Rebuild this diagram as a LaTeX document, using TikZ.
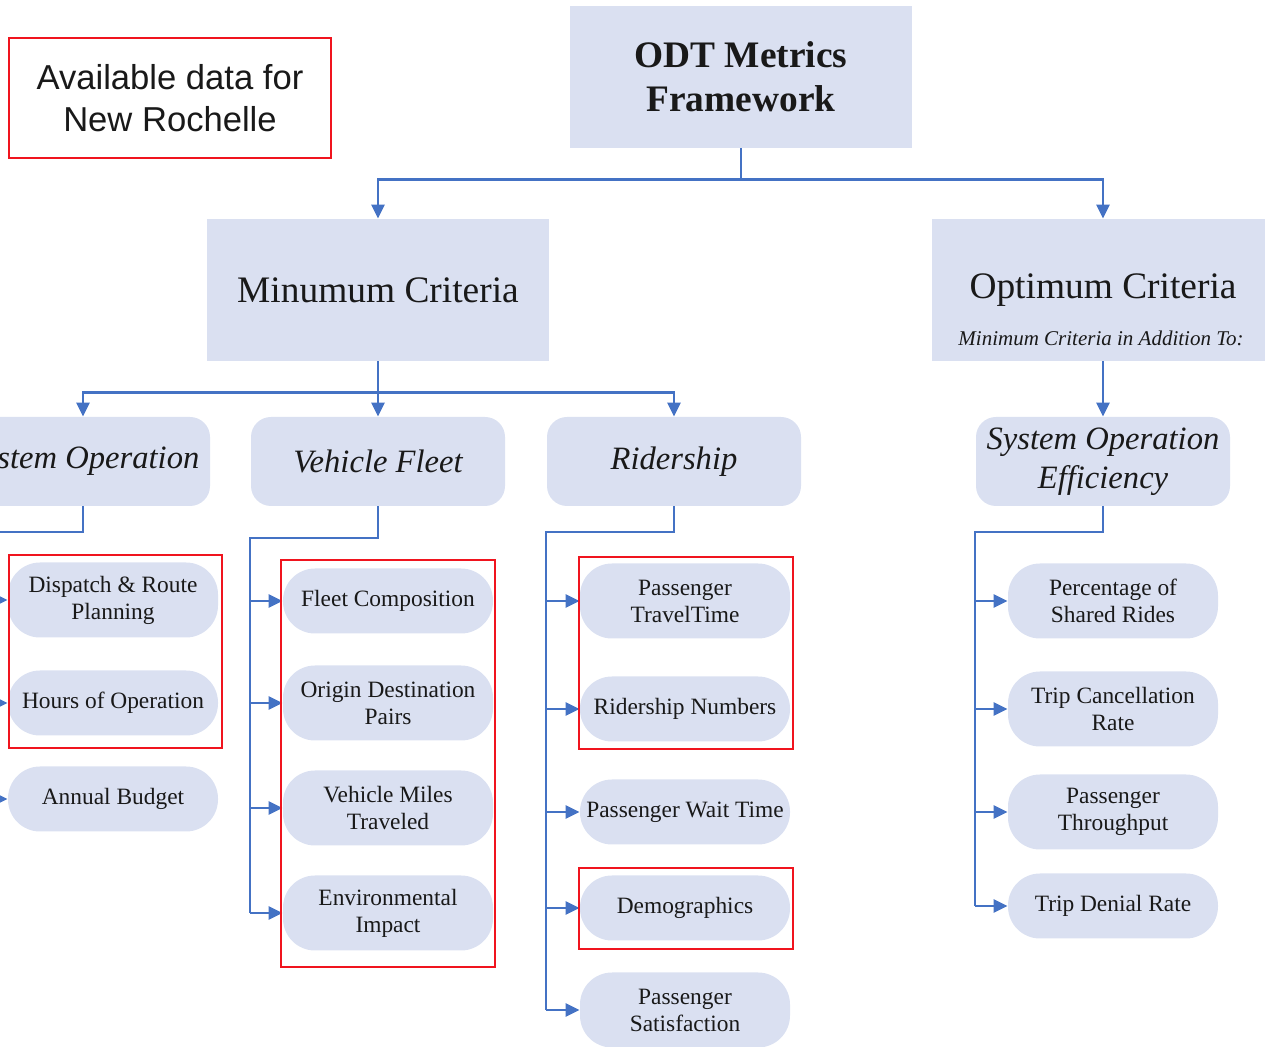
\documentclass[tikz,border=0pt]{standalone}
\usepackage{fontspec}
\setmainfont{Liberation Serif}
\newfontfamily\labelsans{Liberation Sans}
\usetikzlibrary{arrows.meta}
\definecolor{boxfill}{RGB}{218,224,241}
\definecolor{linkblue}{RGB}{68,114,196}
\definecolor{markred}{RGB}{240,20,30}
\definecolor{ink}{RGB}{25,25,25}
\begin{document}
\begin{tikzpicture}[x=0.5pt,y=-0.5pt,
  conn/.style={draw=linkblue, line width=1.25pt, -{Triangle[length=7pt,width=6.5pt]}},
  trunk/.style={draw=linkblue, line width=1.25pt},
  headbox/.style={fill=boxfill, minimum width=171pt, minimum height=71pt, inner sep=0pt, align=center, text=ink},
  catbox/.style={fill=boxfill, rounded corners=10pt, minimum width=127pt, minimum height=44.5pt, inner sep=0pt, align=center, font=\fontsize{16.3}{19.5}\selectfont\itshape, text=ink},
  leaf/.style={fill=boxfill, rounded corners=16pt, minimum width=105pt, inner sep=0pt, align=center, font=\fontsize{11.7}{13.5}\selectfont, text=ink},
  leaftwo/.style={leaf, minimum height=37.5pt},
  leafone/.style={leaf, minimum height=32.5pt},
  redmark/.style={draw=markred, line width=1.2pt},
]
\useasboundingbox (0,0) rectangle (1265,1047);
\clip (0,0) rectangle (1265,1047);

% legend
\node[redmark, minimum width=161pt, minimum height=60pt, inner sep=0pt, align=center,
      font=\labelsans\fontsize{17.3}{21}\selectfont, text=ink] (avail) at (170,98) {Available data for\\New Rochelle};

% top
\node[headbox, font=\fontsize{18.7}{22}\selectfont\bfseries] (odt) at (741,77) {ODT Metrics\\Framework};

% level 2
\node[headbox, font=\fontsize{18.7}{22}\selectfont] (minc) at (378,290) {Minumum Criteria};
\node[headbox, font=\fontsize{18.7}{22}\selectfont] (optc) at (1103,290) {Optimum Criteria};
\node[font=\fontsize{10.5}{12}\selectfont\itshape, text=ink, inner sep=0pt] (optsub) at (1101,338) {Minimum Criteria in Addition To:};

% level 3
\node[catbox] (sysop) at (83,461.5) {System Operation};
\node[catbox] (vf) at (378,461.5) {Vehicle Fleet};
\node[catbox] (rider) at (674,461.5) {Ridership};
\node[catbox] (soe) at (1103,461.5) {System Operation\\Efficiency};

% leaves: system operation
\node[leaftwo] (drp) at (113,600) {Dispatch \& Route\\Planning};
\node[leafone] (hoo) at (113,703) {Hours of Operation};
\node[leafone] (ab) at (113,799) {Annual Budget};

% leaves: vehicle fleet
\node[leafone] (fc) at (388,601) {Fleet Composition};
\node[leaftwo] (od) at (388,703) {Origin Destination\\Pairs};
\node[leaftwo] (vmt) at (388,808) {Vehicle Miles\\Traveled};
\node[leaftwo] (env) at (388,913) {Environmental\\Impact};

% leaves: ridership
\node[leaftwo] (ptt) at (685,601) {Passenger\\TravelTime};
\node[leafone] (rn) at (685,709) {Ridership Numbers};
\node[leafone] (pwt) at (685,812) {Passenger Wait Time};
\node[leafone] (demo) at (685,908) {Demographics};
\node[leaftwo] (psat) at (685,1010) {Passenger\\Satisfaction};

% leaves: system operation efficiency
\node[leaftwo] (psr) at (1113,601) {Percentage of\\Shared Rides};
\node[leaftwo] (tcr) at (1113,709) {Trip Cancellation\\Rate};
\node[leaftwo] (pth) at (1113,812) {Passenger\\Throughput};
\node[leafone] (tdr) at (1113,906) {Trip Denial Rate};

% top connectors
\draw[conn] (odt.south) -- ++(0,31) -| (minc.north);
\draw[conn] (odt.south) -- ++(0,31) -| (optc.north);
\draw[conn] (minc.south) -- ++(0,31) -| (sysop.north);
\draw[conn] (minc.south) -- ++(0,31) -| (vf.north);
\draw[conn] (minc.south) -- ++(0,31) -| (rider.north);
\draw[conn] (optc.south) -- (soe.north);

% trunks
\coordinate (sysopT) at (-25,532);
\coordinate (vfT) at (250,538);
\coordinate (riderT) at (546,532);
\coordinate (soeT) at (975,532);

\draw[trunk] (sysop.south) |- (sysopT) -- (sysopT |- ab.west);
\foreach \n in {drp,hoo,ab} \draw[conn] (sysopT |- \n.west) -- (\n.west);

\draw[trunk] (vf.south) |- (vfT) -- (vfT |- env.west);
\foreach \n in {fc,od,vmt,env} \draw[conn] (vfT |- \n.west) -- (\n.west);

\draw[trunk] (rider.south) |- (riderT) -- (riderT |- psat.west);
\foreach \n in {ptt,rn,pwt,demo,psat} \draw[conn] (riderT |- \n.west) -- (\n.west);

\draw[trunk] (soe.south) |- (soeT) -- (soeT |- tdr.west);
\foreach \n in {psr,tcr,pth,tdr} \draw[conn] (soeT |- \n.west) -- (\n.west);

% available-data markers
\draw[redmark] (9,555) rectangle (222,748);
\draw[redmark] (281,560) rectangle (495,967);
\draw[redmark] (579,557) rectangle (793,749);
\draw[redmark] (579,868) rectangle (793,949);
\end{tikzpicture}
\end{document}
